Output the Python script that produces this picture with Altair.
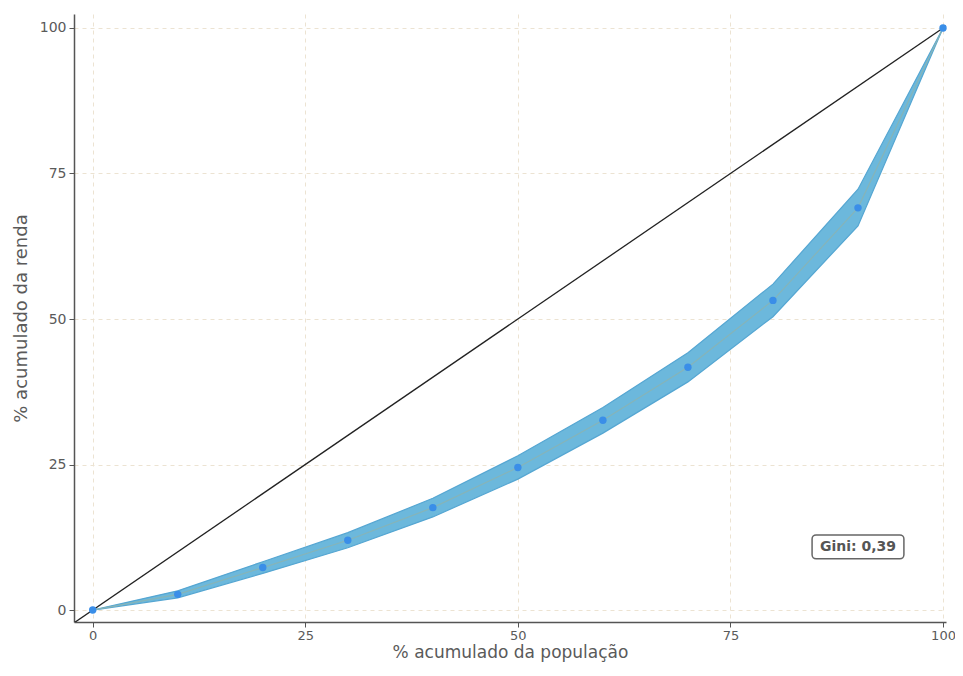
import altair as alt
import pandas as pd

# Lorenz curve data (% cumulative population vs % cumulative income)
pop = [0, 10, 20, 30, 40, 50, 60, 70, 80, 90, 100]
renda = [0, 2.7, 7.3, 12.0, 17.6, 24.5, 32.6, 41.7, 53.2, 69.1, 100]
renda_low = [0, 2.1, 6.3, 10.7, 16.0, 22.5, 30.4, 39.2, 50.4, 66.0, 100]
renda_high = [0, 3.3, 8.3, 13.3, 19.2, 26.5, 34.8, 44.2, 56.0, 72.3, 100]

diag_x = [-2.2, 101]
diag_y = [-2.2, 101]

ticks = [0, 25, 50, 75, 100]
gini_label = "Gini: 0,39"
gini_pos = (90.0, 10.8)
gini_box = (84.6, 95.4, 8.8, 12.9)

df = pd.DataFrame({"pop": pop, "renda": renda, "low": renda_low, "high": renda_high})
diag = pd.DataFrame({"x": diag_x, "y": diag_y})
lab = pd.DataFrame({"x": [gini_pos[0]], "y": [gini_pos[1]], "t": [gini_label]})
box = pd.DataFrame({"x": [gini_box[0]], "x2": [gini_box[1]], "y": [gini_box[2]], "y2": [gini_box[3]]})

FONT = "DejaVu Sans"
xs = alt.Scale(domain=[-2.2, 100.35], nice=False, zero=False)
ys = alt.Scale(domain=[-2.05, 102.4], nice=False, zero=False)

common = dict(
    values=ticks, format="d",
    grid=True, gridDash=[4, 4], gridColor="#ece3d2", gridWidth=1,
    domainColor="#555555", domainWidth=1.5, tickColor="#555555", tickSize=5,
    labelColor="#5a5a5a", labelFont=FONT,
    titleColor="#5a5a5a", titleFont=FONT, titleFontWeight="normal",
)
xaxis = alt.Axis(title="% acumulado da população", titlePadding=2, labelPadding=2,
                 labelFontSize=13, titleFontSize=17, **common)
yaxis = alt.Axis(title="% acumulado da renda", titlePadding=9, labelPadding=3,
                 labelFontSize=14, titleFontSize=18, **common)

base = alt.Chart(df)

band = base.mark_area(color="#6cb8dc", opacity=1, stroke="#55a6d2", strokeWidth=1.2).encode(
    x=alt.X("pop:Q", scale=xs, axis=xaxis),
    y=alt.Y("low:Q", scale=ys, axis=yaxis),
    y2="high:Q",
)

line = base.mark_line(color="#86b4b8", strokeWidth=1.2).encode(
    x=alt.X("pop:Q", scale=xs), y=alt.Y("renda:Q", scale=ys)
)

points = base.mark_circle(color="#3a8ee8", size=55, opacity=1).encode(
    x=alt.X("pop:Q", scale=xs), y=alt.Y("renda:Q", scale=ys)
)

diag_line = alt.Chart(diag).mark_line(color="#222222", strokeWidth=1.3, clip=True).encode(
    x=alt.X("x:Q", scale=xs), y=alt.Y("y:Q", scale=ys)
)

rect = alt.Chart(box).mark_rect(fill="white", stroke="#666666", strokeWidth=1.5, cornerRadius=4).encode(
    x=alt.X("x:Q", scale=xs), x2="x2:Q", y=alt.Y("y:Q", scale=ys), y2="y2:Q"
)

text = alt.Chart(lab).mark_text(font=FONT, fontSize=14, fontWeight="bold", color="#555555").encode(
    x=alt.X("x:Q", scale=xs), y=alt.Y("y:Q", scale=ys), text="t:N"
)

chart = alt.layer(band, line, diag_line, points, rect, text).properties(
    width=872, height=608,
    padding={"left": 66, "top": 6, "right": 9, "bottom": 46},
    autosize=alt.AutoSizeParams(type="none"),
    background="white",
).configure_view(stroke=None)

chart.save("out.html", embed_options={"renderer": "svg", "actions": False})
